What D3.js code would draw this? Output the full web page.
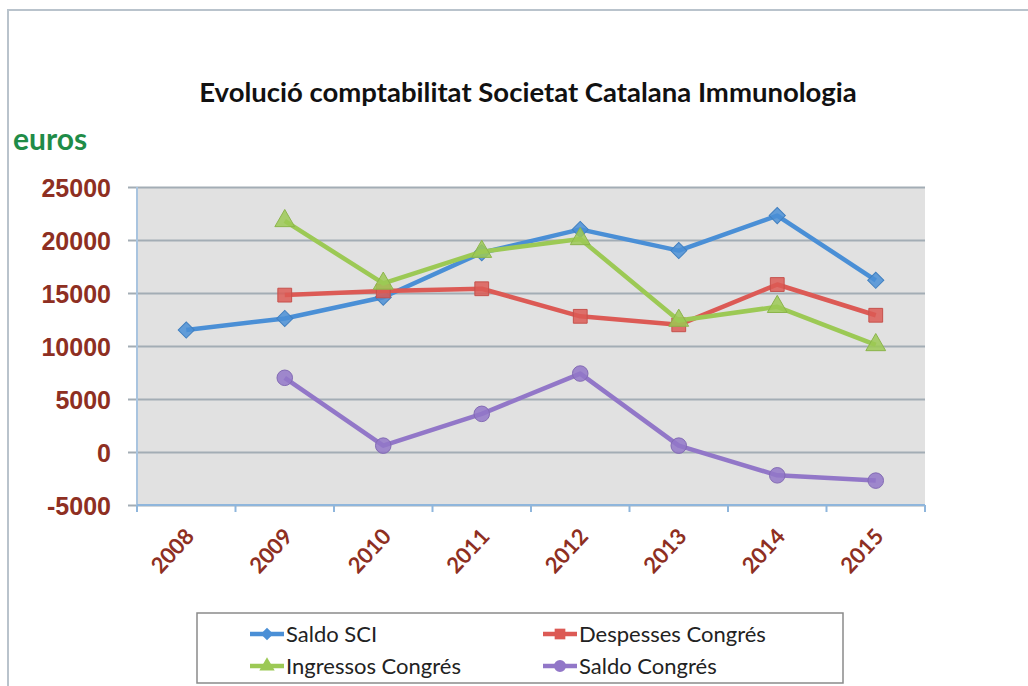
<!DOCTYPE html>
<html>
<head>
<meta charset="utf-8">
<script src="https://cdn.jsdelivr.net/npm/d3@7"></script>
<style>
  body { margin: 0; background: #fff; }
  svg { display: block; font-family: Lato, "Open Sans", sans-serif; }
</style>
</head>
<body>
<svg id="chart" width="1028" height="686"></svg>
<script>
const years = ["2008", "2009", "2010", "2011", "2012", "2013", "2014", "2015"];
const yTicks = [-5000, 0, 5000, 10000, 15000, 20000, 25000];

const saldoSCI = [11500, 12600, 14600, 18800, 21000, 19000, 22300, 16200];
const despesses = [null, 14800, 15200, 15400, 12800, 12000, 15800, 12900];
const ingressos = [null, 21800, 15900, 18900, 20100, 12400, 13700, 10100];
const saldoCongres = [null, 7000, 600, 3600, 7400, 600, -2200, -2700];

const seriesNames = ["Saldo SCI", "Despesses Congrés", "Ingressos Congrés", "Saldo Congrés"];
const seriesColors = ["#4a8fd6", "#dc5a55", "#9cc955", "#9277c8"];
const seriesValues = [saldoSCI, despesses, ingressos, saldoCongres];

// marker: diamond is a square turned 45 degrees, like the spreadsheet one
const markerSymbols = [d3.symbolSquare, d3.symbolSquare, d3.symbolTriangle, d3.symbolCircle];
const markerRotate = [45, 0, 0, 0];
const markerSizes = [130, 190, 170, 190];

const svg = d3.select("#chart");
const plot = {left: 137, right: 925, top: 187, bottom: 505};

// frame of the chart object
svg.append("path")
    .attr("d", `M8,686 L8,10 L1028,10`)
    .attr("fill", "none")
    .attr("stroke", "#b9c3cc")
    .attr("stroke-width", 2);

const x = d3.scaleBand().domain(years).range([plot.left, plot.right]);
const y = d3.scaleLinear().domain([-5000, 25000]).range([plot.bottom, plot.top]);

svg.append("rect")
    .attr("x", plot.left).attr("y", plot.top)
    .attr("width", plot.right - plot.left).attr("height", plot.bottom - plot.top)
    .attr("fill", "#e1e1e1");

// gridlines + y labels
const yAxis = d3.axisLeft(y)
    .tickValues(yTicks)
    .tickFormat(d => String(d))
    .tickSize(-(plot.right - plot.left) - 9)
    .tickPadding(26);
const yg = svg.append("g").attr("transform", `translate(${plot.left},0)`).call(yAxis);
yg.select(".domain").remove();
yg.selectAll(".tick line")
    .attr("transform", "translate(-9,0)")
    .attr("stroke", "#a3adb5").attr("stroke-width", 2);
yg.selectAll(".tick text")
    .attr("fill", "#8e2f22")
    .style("font-size", "25px")
    .style("font-weight", "bold")
    .attr("dy", "0.36em");

svg.append("line")
    .attr("x1", plot.left).attr("x2", plot.left)
    .attr("y1", plot.top).attr("y2", plot.bottom)
    .attr("stroke", "#a9c4df").attr("stroke-width", 2);

// x axis
const xTickPos = years.map(d => x(d)).concat([plot.right]);
const xg = svg.append("g");
xg.append("line")
    .attr("x1", plot.left).attr("x2", plot.right)
    .attr("y1", plot.bottom).attr("y2", plot.bottom)
    .attr("stroke", "#8fb6dc").attr("stroke-width", 2);
xg.selectAll(".xt").data(xTickPos).enter().append("line")
    .attr("x1", d => d).attr("x2", d => d)
    .attr("y1", plot.bottom).attr("y2", plot.bottom + 7)
    .attr("stroke", "#8fb6dc").attr("stroke-width", 2);
xg.selectAll(".xl").data(years).enter().append("text")
    .attr("transform", d => `translate(${x(d) + x.bandwidth() / 2 - 2},${plot.bottom + 22}) rotate(-47)`)
    .attr("text-anchor", "end")
    .attr("dy", "0.7em")
    .attr("fill", "#8e2f22")
    .style("font-size", "22px")
    .style("font-weight", "bold")
    .text(d => d);

// series
const cx = i => x(years[i]) + x.bandwidth() / 2;
const line = d3.line()
    .defined(d => d != null)
    .x((d, i) => cx(i))
    .y(d => y(d));

seriesValues.forEach((vals, s) => {
    const g = svg.append("g");
    g.append("path")
        .datum(vals)
        .attr("d", line)
        .attr("fill", "none")
        .attr("stroke", seriesColors[s])
        .attr("stroke-width", 4.5)
        .attr("stroke-linejoin", "round");
    g.selectAll("path.m")
        .data(vals.map((v, i) => ({v, i})).filter(d => d.v != null))
        .enter().append("path")
        .attr("class", "m")
        .attr("transform", d => `translate(${cx(d.i)},${y(d.v)}) rotate(${markerRotate[s]})`)
        .attr("d", d3.symbol().type(markerSymbols[s]).size(markerSizes[s]))
        .attr("fill", seriesColors[s])
        .attr("fill-opacity", 0.85)
        .attr("stroke", d3.color(seriesColors[s]).darker(0.3))
        .attr("stroke-width", 1);
});

// titles
svg.append("text")
    .attr("x", 528).attr("y", 102)
    .attr("text-anchor", "middle")
    .style("font-size", "27.5px")
    .style("font-weight", "bold")
    .attr("fill", "#111")
    .text("Evolució comptabilitat Societat Catalana Immunologia");

svg.append("text")
    .attr("x", 13).attr("y", 150)
    .style("font-size", "30px")
    .style("font-weight", "bold")
    .attr("fill", "#1f8c48")
    .text("euros");

// legend
const legend = svg.append("g");
legend.append("rect")
    .attr("x", 197).attr("y", 613).attr("width", 646).attr("height", 70)
    .attr("fill", "#fff").attr("stroke", "#8a8a8a").attr("stroke-width", 1.5);

const legendPos = [[250, 634], [543, 634], [250, 666], [543, 666]];
seriesNames.forEach((name, s) => {
    const [lx, ly] = legendPos[s];
    legend.append("line")
        .attr("x1", lx).attr("x2", lx + 34)
        .attr("y1", ly).attr("y2", ly)
        .attr("stroke", seriesColors[s]).attr("stroke-width", 4.5);
    legend.append("path")
        .attr("transform", `translate(${lx + 17},${ly}) rotate(${markerRotate[s]})`)
        .attr("d", d3.symbol().type(markerSymbols[s]).size(markerSizes[s] * 0.6))
        .attr("fill", seriesColors[s]);
    legend.append("text")
        .attr("x", lx + 36).attr("y", ly)
        .attr("dy", "0.36em")
        .style("font-size", "22px")
        .attr("fill", "#222")
        .text(name);
});
</script>
</body>
</html>
